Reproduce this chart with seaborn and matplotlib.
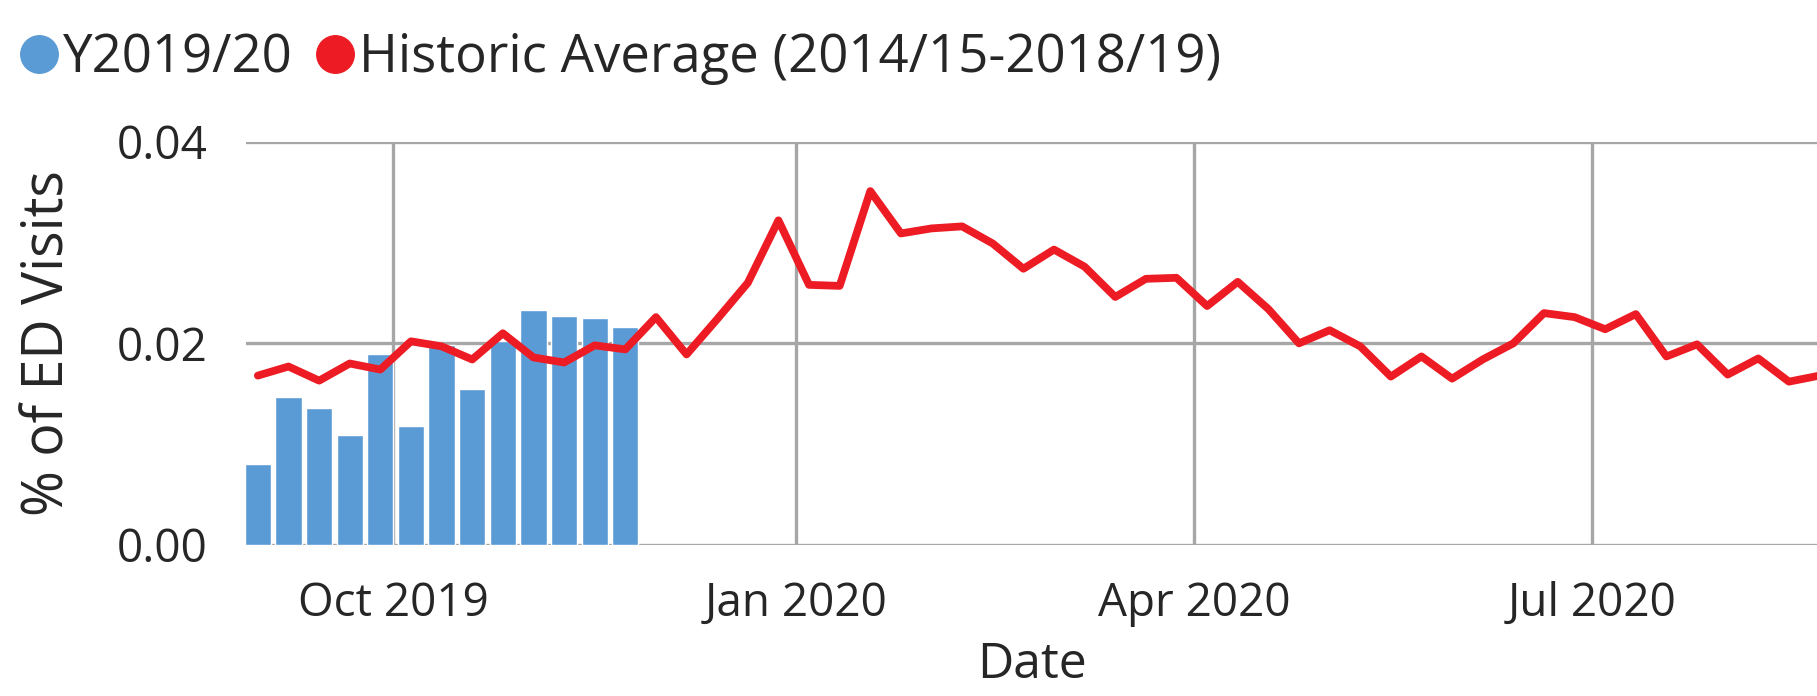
"""
Weekly share of ED visits: current season bars vs historic average line.
"""
import pandas as pd
import matplotlib
matplotlib.use("Agg")
import matplotlib.pyplot as plt
import matplotlib.dates as mdates
from matplotlib.lines import Line2D
import seaborn as sns

# Week-ending dates (Saturdays) for the current season bars
bar_weeks = ["2019-08-31", "2019-09-07", "2019-09-14", "2019-09-21", "2019-09-28",
             "2019-10-05", "2019-10-12", "2019-10-19", "2019-10-26", "2019-11-02",
             "2019-11-09", "2019-11-16", "2019-11-23"]
bar_values = [0.0080, 0.0147, 0.0136, 0.0109, 0.0189, 0.0118, 0.0198, 0.0155,
              0.0202, 0.0233, 0.0227, 0.0225, 0.0216]

# Historic average, one value per week
line_weeks = pd.date_range("2019-08-31", "2020-08-22", freq="7D")
line_values = [0.0168, 0.0177, 0.0163, 0.0180, 0.0174, 0.0202, 0.0197, 0.0184,
               0.0210, 0.0186, 0.0181, 0.0198, 0.0194, 0.0226, 0.0189, 0.0224,
               0.0260, 0.0322, 0.0258, 0.0257, 0.0351, 0.0309, 0.0314, 0.0316,
               0.0299, 0.0274, 0.0293, 0.0276, 0.0246, 0.0264, 0.0265, 0.0237,
               0.0261, 0.0234, 0.0200, 0.0213, 0.0197, 0.0167, 0.0187, 0.0165,
               0.0184, 0.0200, 0.0230, 0.0226, 0.0214, 0.0229, 0.0187, 0.0199,
               0.0169, 0.0185, 0.0162, 0.0168]

series_labels = ["Y2019/20", "Historic Average (2014/15-2018/19)"]
BLUE = "#5B9BD5"
RED = "#ED1C24"
GRID = "#A6A6A6"

sns.set_style("white")
plt.rcParams["font.family"] = ["Open Sans", "DejaVu Sans"]

bars = pd.DataFrame({"week": pd.to_datetime(bar_weeks), "pct": bar_values})
hist = pd.DataFrame({"week": line_weeks, "pct": line_values})

fig = plt.figure(figsize=(18.17, 6.96), dpi=100)
ax = fig.add_axes([0.1354, 0.217, 0.8646, 0.5794])

# Create plot
ax.bar(bars["week"], bars["pct"], width=6, color=BLUE, zorder=2)
sns.lineplot(data=hist, x="week", y="pct", ax=ax, color=RED, linewidth=5.6,
             zorder=3, solid_joinstyle="round", solid_capstyle="round")

# Style
ax.set_xlim(pd.Timestamp("2019-08-28 07:00"), pd.Timestamp("2020-08-21 10:00"))
ax.set_ylim(0, 0.04)
ax.set_yticks([0.0, 0.02, 0.04])
ax.yaxis.set_major_formatter(matplotlib.ticker.FormatStrFormatter("%.2f"))
ax.xaxis.set_major_locator(mdates.MonthLocator(bymonth=[1, 4, 7, 10]))
ax.xaxis.set_major_formatter(mdates.DateFormatter("%b %Y"))
ax.set_axisbelow(True)
ax.grid(True, color=GRID, linewidth=2.4)
for s in ax.spines.values():
    s.set_visible(False)
ax.tick_params(axis="x", length=4, width=2.4, color=GRID, labelsize=33, pad=22)
ax.tick_params(axis="y", length=0, labelsize=33, pad=28)
ax.set_xlabel("Date", fontsize=36, labelpad=10)
ax.set_ylabel("% of ED Visits", fontsize=40, labelpad=28)

handles = [Line2D([], [], marker="o", linestyle="none", markersize=27,
                  markerfacecolor=c, markeredgecolor=c) for c in (BLUE, RED)]
fig.legend(handles, series_labels, loc="upper left", bbox_to_anchor=(-0.006, 1.0),
           ncol=2, frameon=False, fontsize=38, handlelength=0.7,
           handletextpad=0.1, columnspacing=0.45, borderaxespad=0.2)

# Save
fig.savefig("out.png", dpi=100)
plt.close(fig)
